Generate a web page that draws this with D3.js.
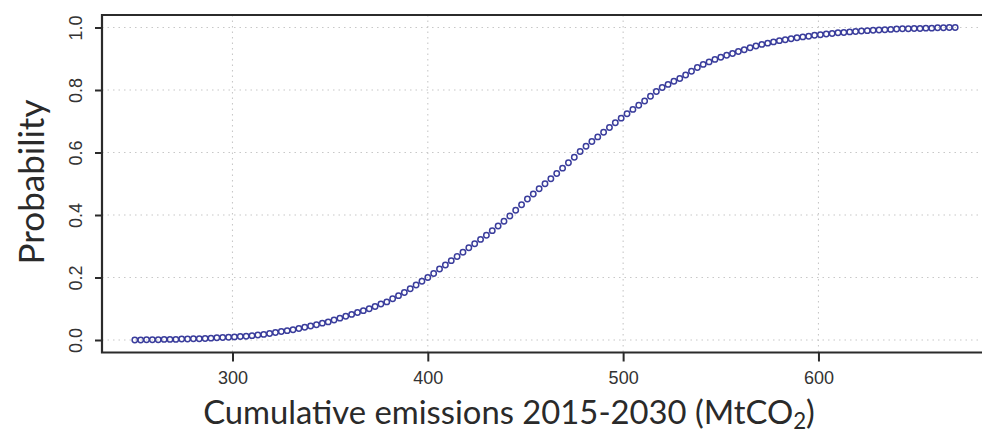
<!DOCTYPE html>
<html>
<head>
<meta charset="utf-8">
<script src="https://cdn.jsdelivr.net/npm/d3@7"></script>
<style>
  html, body { margin: 0; padding: 0; background: #fff; }
  svg { display: block; }
</style>
</head>
<body>
<svg id="chart" width="982" height="435"></svg>
<script>
// Cumulative emissions 2015-2030 (MtCO2) and the probability at each value
const emissions = [
  250, 253, 256, 259, 262, 265, 268, 271, 274, 277,
  280, 283, 286, 289, 292, 295, 298, 301, 304, 307,
  310, 313, 316, 319, 322, 325, 328, 331, 334, 337,
  340, 343, 346, 349, 352, 355, 358, 361, 364, 367,
  370, 373, 376, 379, 382, 385, 388, 391, 394, 397,
  400, 403, 406, 409, 412, 415, 418, 421, 424, 427,
  430, 433, 436, 439, 442, 445, 448, 451, 454, 457,
  460, 463, 466, 469, 472, 475, 478, 481, 484, 487,
  490, 493, 496, 499, 502, 505, 508, 511, 514, 517,
  520, 523, 526, 529, 532, 535, 538, 541, 544, 547,
  550, 553, 556, 559, 562, 565, 568, 571, 574, 577,
  580, 583, 586, 589, 592, 595, 598, 601, 604, 607,
  610, 613, 616, 619, 622, 625, 628, 631, 634, 637,
  640, 643, 646, 649, 652, 655, 658, 661, 664, 667,
  670
];
const probability = [
  0.000, 0.000, 0.001, 0.001, 0.001, 0.002, 0.002, 0.002, 0.003, 0.003,
  0.004, 0.004, 0.005, 0.006, 0.007, 0.008, 0.009, 0.010, 0.011, 0.012,
  0.014, 0.016, 0.018, 0.021, 0.024, 0.027, 0.030, 0.033, 0.037, 0.041,
  0.045, 0.049, 0.054, 0.058, 0.064, 0.070, 0.076, 0.082, 0.088, 0.094,
  0.100, 0.107, 0.115, 0.122, 0.132, 0.142, 0.152, 0.164, 0.176, 0.188,
  0.200, 0.213, 0.227, 0.240, 0.254, 0.267, 0.281, 0.295, 0.308, 0.322,
  0.335, 0.350, 0.365, 0.380, 0.397, 0.415, 0.433, 0.451, 0.467, 0.484,
  0.500, 0.516, 0.533, 0.550, 0.567, 0.585, 0.603, 0.620, 0.635, 0.650,
  0.665, 0.680, 0.695, 0.710, 0.724, 0.738, 0.751, 0.765, 0.780, 0.795,
  0.808, 0.818, 0.828, 0.837, 0.848, 0.860, 0.872, 0.882, 0.890, 0.898,
  0.905, 0.911, 0.917, 0.923, 0.929, 0.935, 0.941, 0.946, 0.950, 0.954,
  0.958, 0.961, 0.964, 0.967, 0.970, 0.972, 0.975, 0.977, 0.979, 0.981,
  0.983, 0.984, 0.986, 0.987, 0.989, 0.990, 0.991, 0.992, 0.993, 0.994,
  0.995, 0.996, 0.996, 0.997, 0.997, 0.998, 0.998, 0.999, 0.999, 1.000,
  1.000
];
const xTicks = [300, 400, 500, 600];
const yTicks = [0.0, 0.2, 0.4, 0.6, 0.8, 1.0];
const xTitle = "Cumulative emissions 2015-2030 (MtCO";
const xTitleSub = "2";
const yTitle = "Probability";

const svg = d3.select("#chart");

// plot region (R-style 4% padding around the data range)
const plotLeft = 102, plotTop = 15, plotBottom = 352.5, plotRight = 988;
const x = d3.scaleLinear().domain([233.2, 686.8]).range([plotLeft, plotRight]);
const y = d3.scaleLinear().domain([-0.04, 1.04]).range([plotBottom, plotTop]);

const tickFont = "'Liberation Sans', Arial, sans-serif";
const titleFont = "Lato, 'Open Sans', sans-serif";
const ink = "#2b2b2b";

// dotted grid
const grid = svg.append("g")
  .attr("stroke", "#c8c8c8")
  .attr("stroke-width", 1.1)
  .attr("stroke-dasharray", "1.5,4");
grid.selectAll("line.h").data(yTicks).join("line")
  .attr("class", "h")
  .attr("x1", plotLeft).attr("x2", plotRight)
  .attr("y1", d => y(d)).attr("y2", d => y(d));
grid.selectAll("line.v").data(xTicks).join("line")
  .attr("class", "v")
  .attr("x1", d => x(d)).attr("x2", d => x(d))
  .attr("y1", plotTop).attr("y2", plotBottom);

// axes
const xAxis = d3.axisBottom(x).tickValues(xTicks).tickSize(9).tickPadding(5)
  .tickFormat(d3.format("d"));
const gx = svg.append("g").attr("transform", `translate(0,${plotBottom})`).call(xAxis);
gx.select(".domain").remove();
gx.selectAll(".tick line").attr("stroke", ink).attr("stroke-width", 2);
gx.selectAll(".tick text")
  .attr("fill", "#333").attr("font-family", tickFont).attr("font-size", 18)
  .attr("dy", "0.95em");

const yAxis = d3.axisLeft(y).tickValues(yTicks).tickSize(7).tickPadding(0)
  .tickFormat(d3.format(".1f"));
const gy = svg.append("g").attr("transform", `translate(${plotLeft},0)`).call(yAxis);
gy.select(".domain").remove();
gy.selectAll(".tick line").attr("stroke", ink).attr("stroke-width", 2);
gy.selectAll(".tick text")
  .attr("fill", "#333").attr("font-family", tickFont).attr("font-size", 18)
  .attr("text-anchor", "middle")
  .attr("x", 0).attr("dy", 0)
  .attr("transform", "translate(-26,0) rotate(-90)")
  .attr("dominant-baseline", "central");

// plot box (left, top, bottom edges; right edge falls past the page)
svg.append("path")
  .attr("stroke", ink).attr("stroke-width", 2.2).attr("fill", "none")
  .attr("d", `M${plotRight},${plotTop}H${plotLeft}V${plotBottom}H${plotRight}`);

// points
svg.append("g")
  .selectAll("circle")
  .data(emissions.map((e, i) => [e, probability[i]]))
  .join("circle")
  .attr("cx", d => x(d[0]))
  .attr("cy", d => y(d[1]))
  .attr("r", 2.7)
  .attr("fill", "none")
  .attr("stroke", "#3a3d9c")
  .attr("stroke-width", 1.5);

// axis titles
const xt = svg.append("text")
  .attr("x", 509).attr("y", 424)
  .attr("text-anchor", "middle")
  .attr("font-family", titleFont)
  .attr("font-size", 28)
  .attr("fill", "#2a2a2a");
xt.append("tspan").text(xTitle);
const sub = xt.append("tspan").attr("font-size", 19).attr("dy", 5).text(xTitleSub);
xt.append("tspan").attr("dy", -5).text(")");
// fit title to its drawn width
const xw = xt.node().getComputedTextLength();
xt.attr("font-size", 28 * 612 / xw);
sub.attr("font-size", 19 * 612 / xw);

const yt = svg.append("text")
  .attr("transform", "translate(30,182) rotate(-90)")
  .attr("text-anchor", "middle")
  .attr("dominant-baseline", "central")
  .attr("font-family", titleFont)
  .attr("font-size", 28)
  .attr("fill", "#2a2a2a")
  .text(yTitle);
const yw = yt.node().getComputedTextLength();
yt.attr("font-size", 28 * 165 / yw);
</script>
</body>
</html>
